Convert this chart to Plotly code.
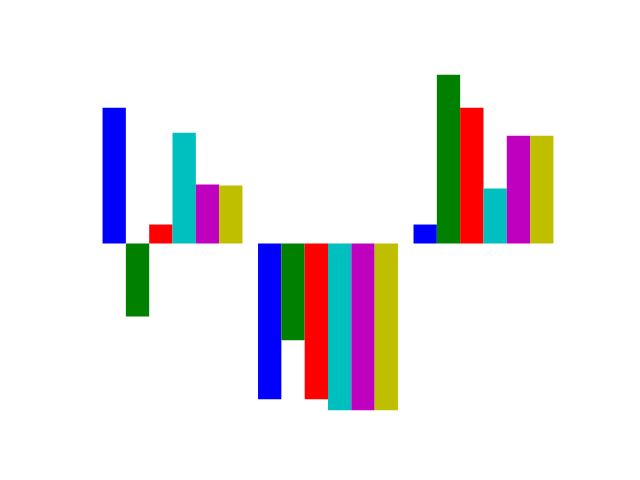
import plotly.graph_objects as go

groups = [0, 1, 2]
series_names = ["b", "g", "r", "c", "m", "y"]
series_colors = ["#0000ff", "#008000", "#ff0000", "#00bfbf", "#bf00bf", "#bfbf00"]
values = {
    "b": [136, -156, 19],
    "g": [-73, -97, 169],
    "r": [19, -156, 136],
    "c": [111, -167, 55],
    "m": [59, -167, 108],
    "y": [58, -167, 108],
}

fig = go.Figure()
for name, color in zip(series_names, series_colors):
    fig.add_trace(go.Bar(x=groups, y=values[name], name=name,
                         marker=dict(color=color, line=dict(width=0))))

all_vals = [v for s in values.values() for v in s]
ymin, ymax = min(all_vals), max(all_vals)
pad = 0.05 * (ymax - ymin)

fig.update_layout(
    width=640, height=480,
    margin=dict(l=80, r=64, t=58, b=53),
    paper_bgcolor="white", plot_bgcolor="white",
    barmode="group", bargap=0.1, bargroupgap=0,
    showlegend=False,
    xaxis=dict(visible=False, range=[-0.595, 2.595]),
    yaxis=dict(visible=False, range=[ymin - pad, ymax + pad]),
)
fig.write_html("out.html")
